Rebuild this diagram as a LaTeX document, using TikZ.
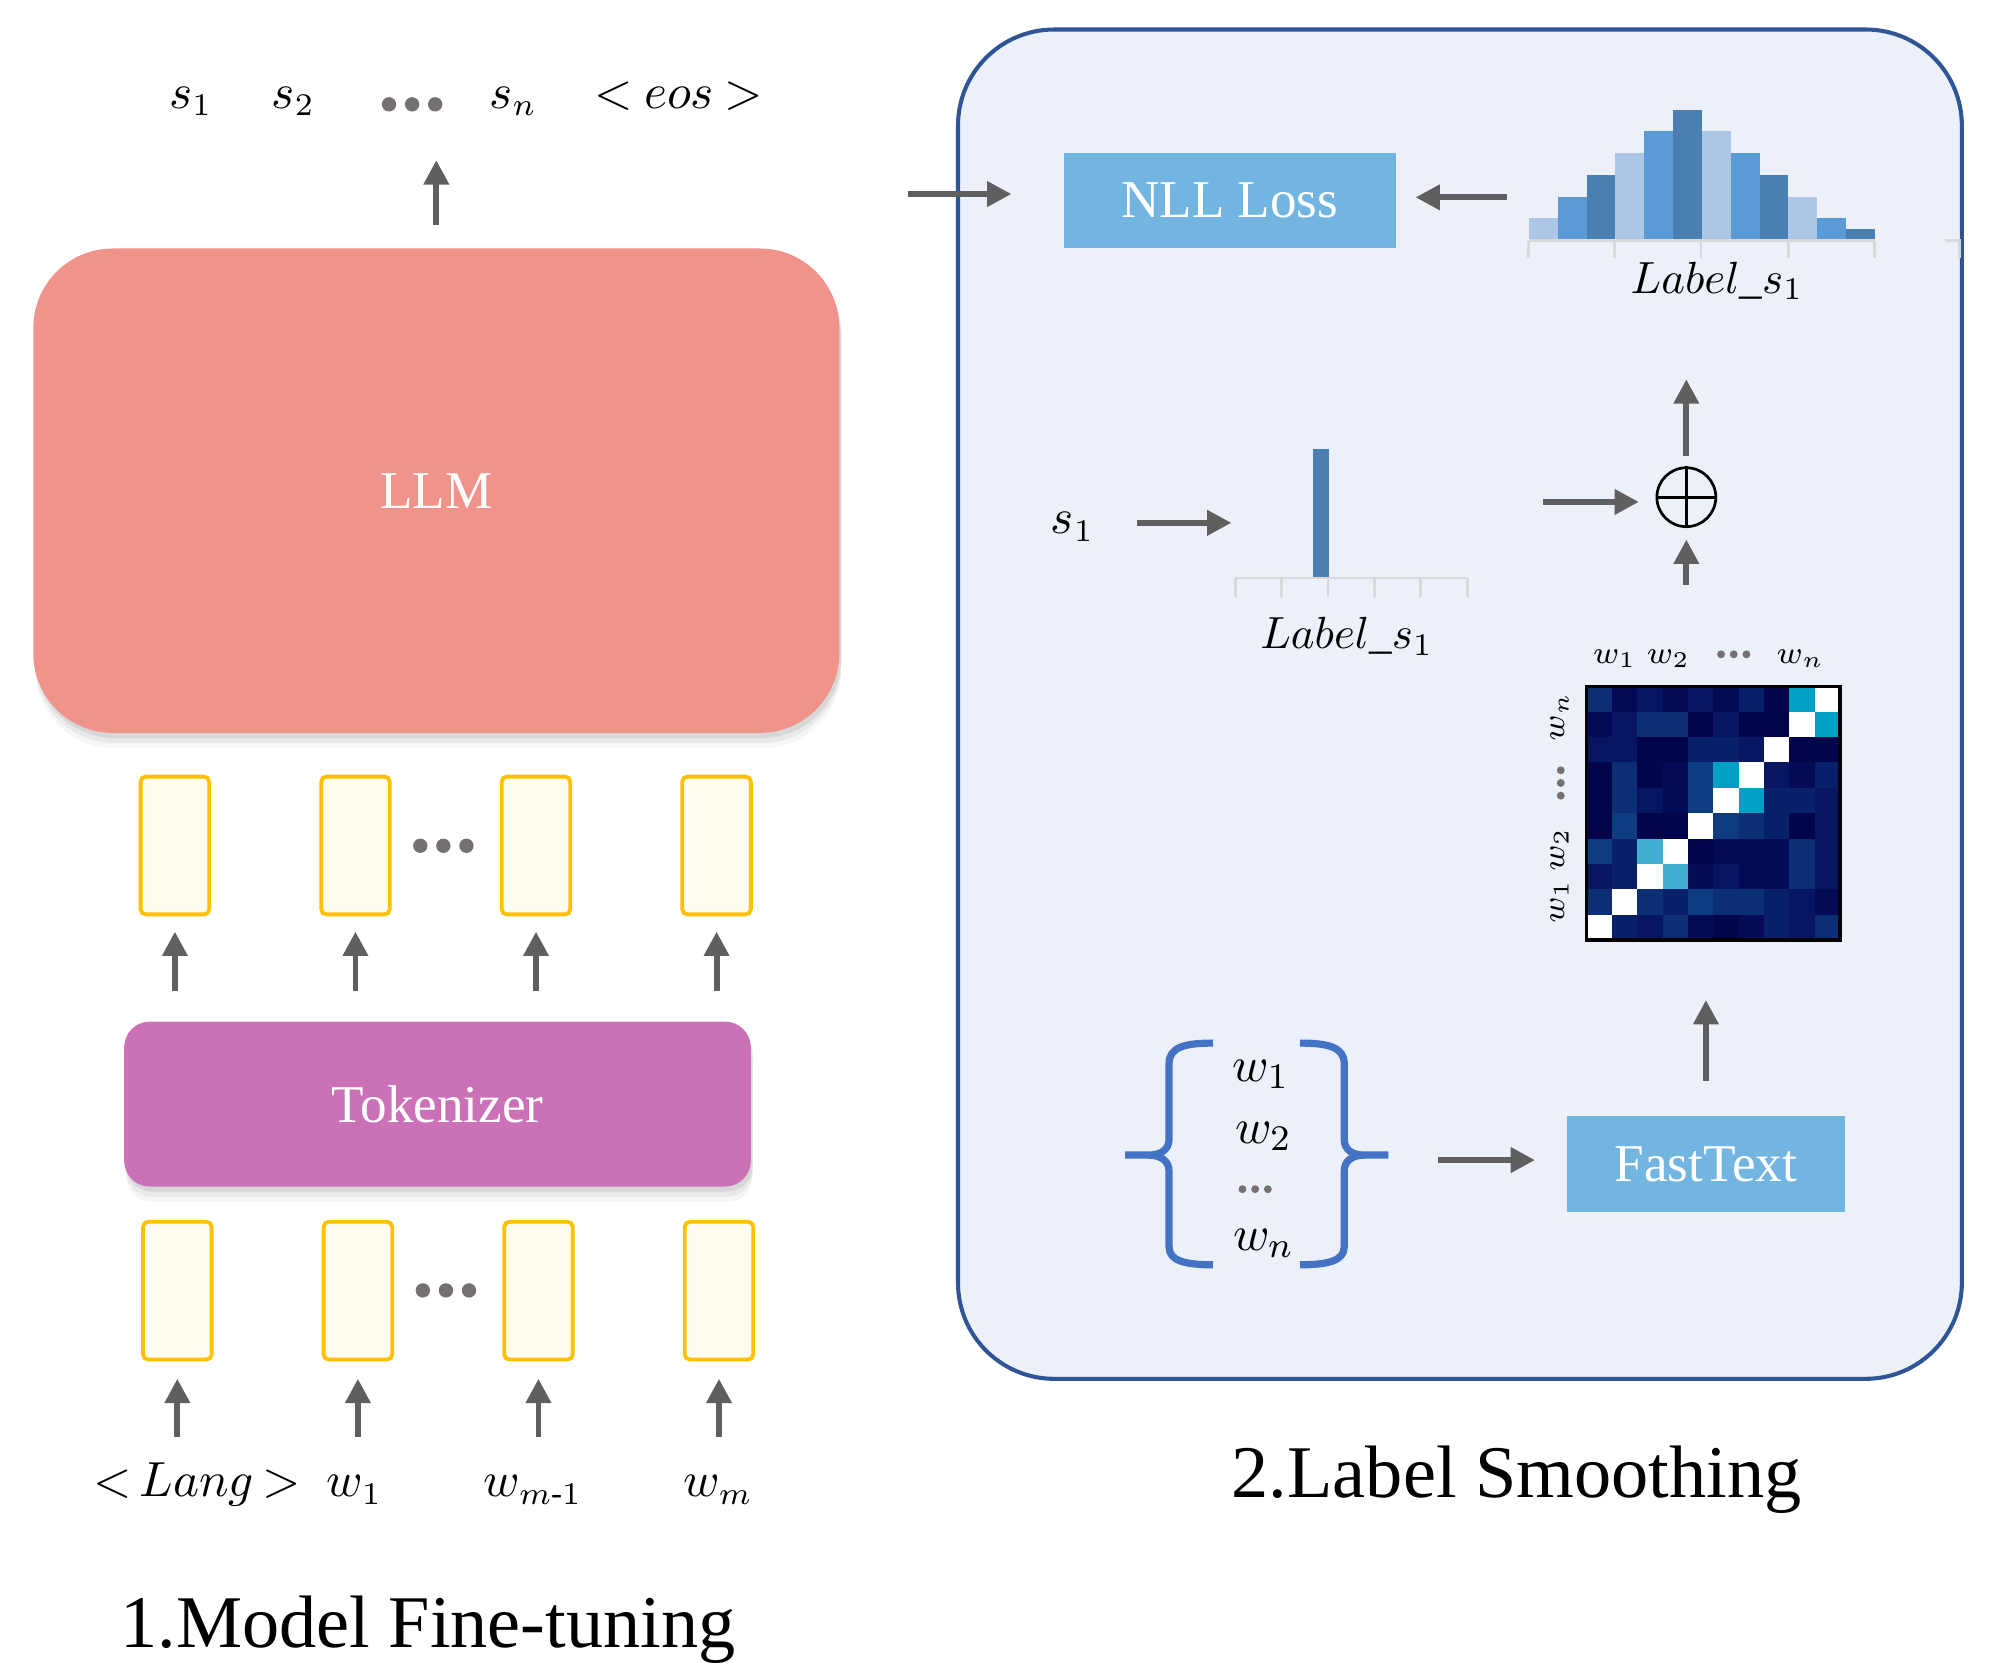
\documentclass[tikz,border=0pt]{standalone}
\usepackage{amsmath}
\usepackage{fontspec}
\setmainfont{Liberation Serif}
\usetikzlibrary{arrows.meta,shadows}
\definecolor{arrgray}{HTML}{5F5F5F}
\definecolor{dotgray}{HTML}{767171}
\definecolor{llmred}{HTML}{F0938A}
\definecolor{tokpink}{HTML}{CA71B7}
\definecolor{boxgold}{HTML}{FFC000}
\definecolor{boxcream}{HTML}{FFFDF2}
\definecolor{boxblue}{HTML}{72B5E0}
\definecolor{panelbg}{HTML}{EBF0F9}
\definecolor{panelblue}{HTML}{2F5597}
\definecolor{braceblue}{HTML}{4472C4}
\definecolor{barlight}{HTML}{ADC6E5}
\definecolor{barmid}{HTML}{5B9BD5}
\definecolor{bardark}{HTML}{4A7FB1}
\definecolor{axgray}{HTML}{D9D9D9}
\definecolor{hmA}{HTML}{02054A}
\definecolor{hmB}{HTML}{040B56}
\definecolor{hmC}{HTML}{061660}
\definecolor{hmD}{HTML}{08206A}
\definecolor{hmE}{HTML}{0B2E74}
\definecolor{hmF}{HTML}{0D3C80}
\definecolor{hmY}{HTML}{00A0C4}
\definecolor{hmL}{HTML}{40B0D0}
\definecolor{hmW}{HTML}{FFFFFF}
\tikzset{
  arr/.style={draw=arrgray,line width=1.3pt,-{Triangle[length=5.4pt,width=5.4pt]}},
  tokbox/.style={draw=boxgold,fill=boxcream,line width=.85pt,rounded corners=.4mm,minimum width=5.35mm,minimum height=10.75mm,inner sep=0},
  bluebox/.style={fill=boxblue,text=white,font=\fontsize{11.8}{14}\selectfont,minimum height=7.45mm,inner sep=0},
  lbl/.style={font=\fontsize{10.5}{12}\selectfont,inner sep=0,anchor=base,text height=8pt},
  hlbl/.style={font=\fontsize{7}{8}\selectfont,inner sep=0},
  softshadow/.style={drop shadow={shadow xshift=.15mm,shadow yshift=-.4mm,opacity=.16},
    drop shadow={shadow xshift=.15mm,shadow yshift=-.8mm,opacity=.11},
    drop shadow={shadow xshift=.15mm,shadow yshift=-1.2mm,opacity=.07}},
  dots3/.pic={\foreach \k in {-1,0,1} \fill[dotgray] (\k*18,0) circle (5.6);}
}
\begin{document}
\begin{tikzpicture}[x=.1mm,y=-.1mm]
\useasboundingbox[fill=white] (0,0) rectangle (1560,1308);
% 1. fine-tuning
\node[softshadow,fill=llmred,rounded corners=6.2mm,minimum width=62.9mm,minimum height=37.8mm,text=white,font=\fontsize{11.8}{14}\selectfont] (llm) at (340.5,382.9) {LLM};
\node[softshadow,fill=tokpink,rounded corners=2mm,minimum width=48.9mm,minimum height=12.87mm,text=white,font=\fontsize{11.8}{14}\selectfont] (tok) at (341.4,861.6) {Tokenizer};
\foreach \i in {1,...,4} {
  \node[tokbox] (u\i) at ({-4.4+140.9*\i},659.8) {};
  \node[tokbox] (b\i) at ({-2.5+140.9*\i},1007.2) {};
  \draw[arr,shorten <=2.3mm,shorten >=1.2mm] (tok.north -| u\i.south) -- (u\i.south);
}
\pic at (346,660) {dots3};
\pic at (348,1007) {dots3};
\foreach \i/\x/\t in {1/153.7/{${<}\mkern3mu Lang\mkern3mu{>}$},2/276.7/{$w_1$},3/416/{$w_{m\text{-}1}$},4/560.5/{$w_m$}} {
  \node[lbl] (l\i) at (\x,1168) {\t};
  \draw[arr,shorten <=1.8mm,shorten >=1.35mm] (l\i.north -| b\i.south) -- (b\i.south);
}
\foreach \i/\x/\t in {1/149/{$s_1$},2/229/{$s_2$},3/400.6/{$s_n$},4/530/{${<}\mkern4mu eos\mkern4mu{>}$}}
  \node[lbl] (o\i) at (\x,84.5) {\t};
\pic at (321.6,81.4) {dots3};
\coordinate (out) at (340.5,125);
\draw[arr,shorten <=1.8mm] (llm.north) -- (out);
\node[font=\fontsize{16.5}{20}\selectfont,anchor=base,inner sep=0] (cap1) at (334,1286) {1.Model Fine-tuning};
% 2. label smoothing
\node[draw=panelblue,fill=panelbg,line width=.9pt,rounded corners=7.5mm,minimum width=78.34mm,minimum height=105.3mm,inner sep=0] (panel) at (1139.3,549.5) {};
\node[bluebox,minimum width=25.94mm] (nll) at (959.7,156.5) {NLL Loss};
\coordinate (entry) at (708.8,151.4);
\draw[arr,shorten >=4mm] (entry) -- (entry -| nll.west);
\foreach \h/\c [count=\i] in {16.4/barlight,32.8/barmid,50/bardark,67/barlight,84/barmid,101/bardark,84/barlight,67/barmid,50/bardark,33/barlight,16.4/barmid,7.8/bardark}
  \fill[\c] ({1170.7+22.5*\i},186.5) rectangle ++(22.5,-\h);
\draw[axgray,line width=.6pt] (1193,187.8) -- (1463,187.8) (1518,187.8) -- (1529,187.8) -- (1529,201.5);
\foreach \x in {1193,1260,1327.5,1395.5,1463} \draw[axgray,line width=.6pt] (\x,187.8) -- (\x,201.5);
\node[lbl,font=\fontsize{10}{12}\selectfont] (ltop) at (1340,228.8) {$Label\_s_1$};
\coordinate (hist) at (1176,154);
\draw[arr,shorten >=1.46mm] (hist) -- (hist -| nll.east);
\node[draw,circle,line width=.6pt,minimum size=4.6mm,inner sep=0] (plus) at (1316,388) {};
\draw[line width=.6pt] (plus.north) -- (plus.south) (plus.west) -- (plus.east);
\coordinate (up) at (1316,296);
\draw[arr,shorten <=.84mm] (plus.north) -- (up);
\node[lbl] (s) at (837,416.7) {$s_1$};
\coordinate (spike) at (961,408);
\draw[arr,shorten <=3.3mm] (s.east |- spike) -- (spike);
\fill[bardark] (1025,350) rectangle (1037,450);
\draw[axgray,line width=.6pt] (964,451) -- (1145,451);
\foreach \k in {0,...,5} \draw[axgray,line width=.6pt] ({964+36.2*\k},451) -- ({964+36.2*\k},466);
\node[lbl,font=\fontsize{10}{12}\selectfont] (lone) at (1051,505.9) {$Label\_s_1$};
\coordinate (oh) at (1204,391.7);
\draw[arr,shorten >=1.3mm] (oh) -- (oh -| plus.west);
% heatmap
\foreach \row [count=\r] in {{E,B,C,B,C,B,D,A,Y,W},{B,C,E,E,A,C,A,A,W,Y},{C,C,A,A,D,D,C,W,A,A},{A,E,A,B,F,Y,W,C,B,D},{A,E,C,B,F,W,Y,D,D,C},
  {A,F,A,A,W,F,E,D,A,C},{F,D,L,W,A,B,B,B,E,C},{C,D,W,L,B,C,B,B,E,C},{E,W,E,D,F,E,E,D,C,B},{W,D,C,E,B,A,B,D,C,E}}
  \foreach \c [count=\k] in \row
    \fill[hm\c] ({1238+19.8*(\k-1)},{535.6+19.8*(\r-1)}) rectangle ++(19.8,19.8);
\node[draw,line width=.8pt,minimum size=19.8mm,inner sep=0] (hm) at (1337,634.6) {};
\node[hlbl,anchor=base] (hx1) at (1260,517.6) {$w_1$};
\node[hlbl,anchor=base] (hx2) at (1302,517.6) {$w_2$};
\node[hlbl,anchor=base] (hxn) at (1405,517.6) {$w_n$};
\pic[scale=.55] at (1353,510.6) {dots3};
\node[hlbl,rotate=90] (hyn) at (1217,559.5) {$w_n$};
\node[hlbl,rotate=90] (hy2) at (1217,663) {$w_2$};
\node[hlbl,rotate=90] (hy1) at (1217,704) {$w_1$};
\pic[rotate=90,scale=.55] at (1218,611) {dots3};
\draw[arr,shorten <=7.76mm,shorten >=.9mm] (plus |- hm.north) -- (plus.south);
\node[bluebox,minimum width=21.74mm] (ft) at (1331.3,908.3) {FastText};
\draw[arr,shorten <=2.7mm,shorten >=4.54mm] (ft.north) -- (ft.north |- hm.south);
% word set
\draw[braceblue,line width=1.6pt] (946.6,814) .. controls (925,814) and (912.3,817) .. (912.3,830) -- (912.3,889)
  .. controls (912.3,897) and (906,901.4) .. (896,901.4) -- (878,901.4) -- (896,901.4)
  .. controls (906,901.4) and (912.3,906) .. (912.3,914) -- (912.3,973) .. controls (912.3,984) and (925,987) .. (946.6,987);
\draw[braceblue,line width=1.6pt] (1014.5,814) .. controls (1036,814) and (1049,817) .. (1049,830) -- (1049,889)
  .. controls (1049,897) and (1055,901.4) .. (1065,901.4) -- (1083.5,901.4) -- (1065,901.4)
  .. controls (1055,901.4) and (1049,906) .. (1049,914) -- (1049,973) .. controls (1049,984) and (1036,987) .. (1014.5,987);
\node[lbl,font=\fontsize{11}{13}\selectfont] (bw1) at (984,844) {$w_1$};
\node[lbl,font=\fontsize{11}{13}\selectfont] (bw2) at (986,892) {$w_2$};
\node[lbl,font=\fontsize{11}{13}\selectfont] (bwn) at (986,975.5) {$w_n$};
\pic[scale=.55] at (979.5,928) {dots3};
\coordinate (bset) at (1083.5,905.3);
\draw[arr,shorten <=3.9mm,shorten >=2.4mm] (bset) -- (bset -| ft.west);
\node[font=\fontsize{16.5}{20}\selectfont,anchor=base,inner sep=0] (cap2) at (1183.5,1168.5) {2.Label Smoothing};
\end{tikzpicture}
\end{document}
